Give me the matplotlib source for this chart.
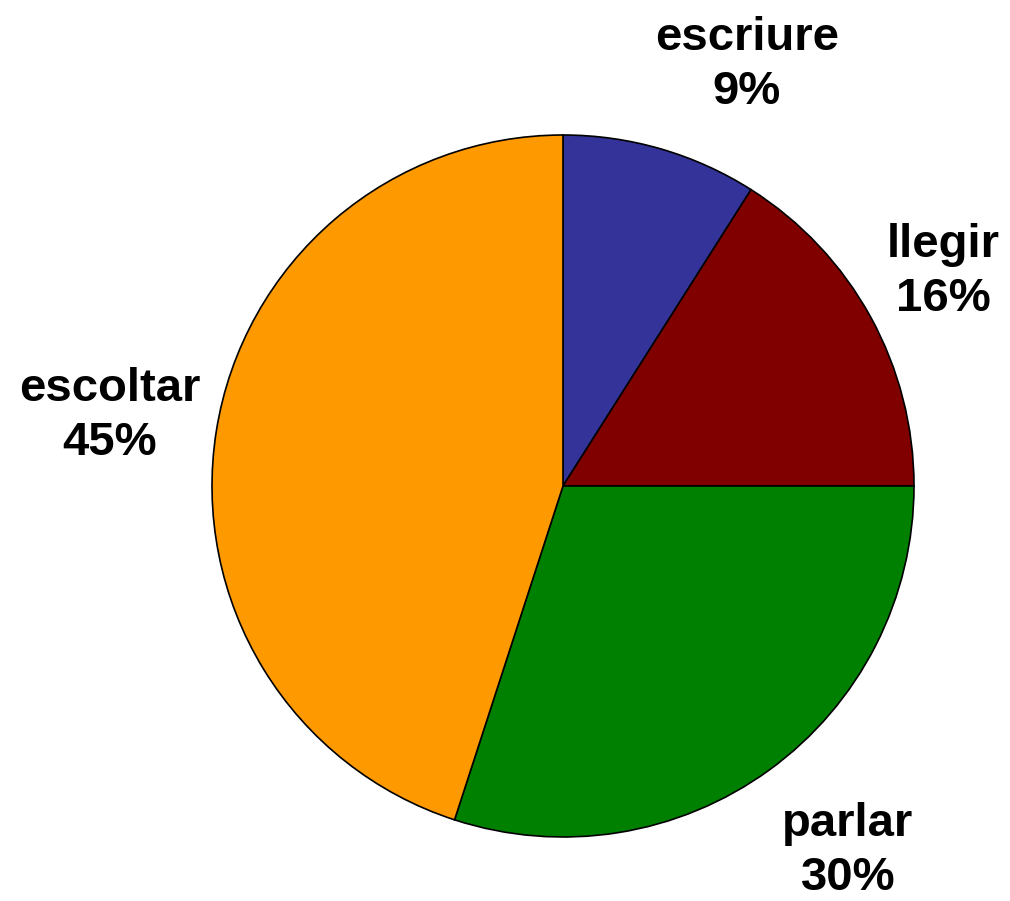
import matplotlib
matplotlib.use("Agg")
import matplotlib.pyplot as plt

categories = ["escriure", "llegir", "parlar", "escoltar"]
values = [9, 16, 30, 45]
colors = ["#333399", "#800000", "#008000", "#FF9900"]

W, H = 1010, 901
fig = plt.figure(figsize=(W / 100, H / 100), dpi=100)
ax = fig.add_axes([0, 0, 1, 1])

ax.pie(values, colors=colors, startangle=90, counterclock=False,
       center=(563, H - 486), radius=351, frame=True,
       wedgeprops=dict(edgecolor="black", linewidth=1.2))
ax.set_xlim(0, W)
ax.set_ylim(0, H)
ax.set_aspect("equal")
ax.axis("off")

label_pos = [(747, 65), (943, 272), (848, 851), (110, 416)]
for cat, val, (x, y) in zip(categories, values, label_pos):
    ax.text(x, H - y, f"{cat}\n{val}%", ha="center", va="center",
            fontsize=34, fontweight="bold", family="Liberation Sans",
            linespacing=1.3)

fig.savefig("out.png", dpi=100)
